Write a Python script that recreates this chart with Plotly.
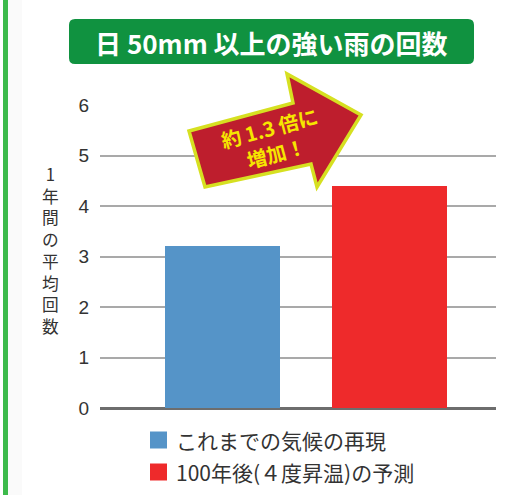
import plotly.graph_objects as go

# ---- data ----
categories = ["これまでの気候の再現", "100年後(４度昇温)の予測"]
values = [3.2, 4.4]
colors = ["#5594c8", "#ee2a2b"]
y_ticks = [0, 1, 2, 3, 4, 5, 6]
title_text = "日 50mm 以上の強い雨の回数"
y_label = "1年間の平均回数"
arrow_text = "約 1.3 倍に<br>増加！"

W, H = 509, 495
L, R, T, B = 100, 496, 105, 408  # plot area in pixels

def px(x):
    return (x - L) / (R - L)

def py(y):
    return (B - y) / (B - T)

JP = "Noto Sans CJK JP, Liberation Sans, sans-serif"
NUM = "Liberation Sans, Arial, sans-serif"

fig = go.Figure()
xpos = list(range(len(categories)))
fig.add_trace(go.Bar(
    x=xpos, y=values, marker=dict(color=colors, line=dict(width=0)),
    width=0.69, showlegend=False, hoverinfo="skip"))

shapes = []
# left green border
shapes.append(dict(type="rect", xref="paper", yref="paper",
                   x0=px(8), x1=px(22), y0=py(H), y1=py(0),
                   fillcolor="#fafafa", line=dict(width=0), layer="below"))
shapes.append(dict(type="rect", xref="paper", yref="paper",
                   x0=px(3), x1=px(8), y0=py(H), y1=py(0),
                   fillcolor="#3dba4b", line=dict(width=0)))

# rounded title box
def rounded(x0, y0, x1, y1, r):
    pts = [
        f"M{px(x0 + r)},{py(y0)}",
        f"L{px(x1 - r)},{py(y0)}",
        f"Q{px(x1)},{py(y0)} {px(x1)},{py(y0 + r)}",
        f"L{px(x1)},{py(y1 - r)}",
        f"Q{px(x1)},{py(y1)} {px(x1 - r)},{py(y1)}",
        f"L{px(x0 + r)},{py(y1)}",
        f"Q{px(x0)},{py(y1)} {px(x0)},{py(y1 - r)}",
        f"L{px(x0)},{py(y0 + r)}",
        f"Q{px(x0)},{py(y0)} {px(x0 + r)},{py(y0)}",
        "Z",
    ]
    return " ".join(pts)

shapes.append(dict(type="path", xref="paper", yref="paper",
                   path=rounded(69, 19, 474, 64, 6),
                   fillcolor="#109240", line=dict(width=0)))

# arrow
arrow_px = [(189, 131), (293, 103), (287, 74), (361, 115),
            (317, 187), (311, 164), (205, 187)]
path = "M" + " L".join(f"{px(x)},{py(y)}" for x, y in arrow_px) + " Z"
shapes.append(dict(type="path", xref="paper", yref="paper", path=path,
                   fillcolor="#be1e2d", line=dict(color="#d6e021", width=3.5)))

annotations = [
    dict(text=title_text, xref="paper", yref="paper", x=px(271.5), y=py(42),
         showarrow=False, xanchor="center", yanchor="middle",
         font=dict(family=JP, size=26, color="white", weight="bold")),
    dict(text=arrow_text, xref="paper", yref="paper", x=px(272), y=py(140),
         showarrow=False, xanchor="center", yanchor="middle", textangle=-15,
         font=dict(family=JP, size=20, color="#f6e600", weight="bold")),
    # vertical y-axis title, one character per line
    dict(text="<br>".join(list(y_label)), xref="paper", yref="paper",
         x=px(50), y=py(250), showarrow=False, xanchor="center", yanchor="middle",
         font=dict(family=JP, size=16.7, color="#333333")),
]

# legend (square swatch + label per series)
for i, (name, c) in enumerate(zip(categories, colors)):
    cy = 440 + i * 32
    shapes.append(dict(type="rect", xref="paper", yref="paper",
                       x0=px(150), x1=px(167), y0=py(cy + 8.5), y1=py(cy - 8.5),
                       fillcolor=c, line=dict(width=0)))
    annotations.append(dict(
        text=name, xref="paper", yref="paper", x=px(174), y=py(cy),
        showarrow=False, xanchor="left", yanchor="middle",
        font=dict(family=JP, size=21, color="#333333")))

fig.update_layout(
    width=W, height=H,
    margin=dict(l=L, r=W - R, t=T, b=H - B, pad=0),
    paper_bgcolor="white", plot_bgcolor="white",
    shapes=shapes, annotations=annotations,
    showlegend=False,
    xaxis=dict(range=[-0.734, 1.638], showticklabels=False, showgrid=False,
               zeroline=False, showline=False, fixedrange=True),
    yaxis=dict(range=[0, 6], tickvals=y_ticks, showgrid=True,
               gridcolor="#a9a9a9", gridwidth=2,
               zeroline=True, zerolinecolor="#6d6d6d", zerolinewidth=3,
               showline=False, ticks="", ticklabelstandoff=10, fixedrange=True,
               tickfont=dict(family=NUM, size=19, color="#333333")),
    bargap=0,
)

fig.write_html("out.html", config={"displayModeBar": False},
               post_script="document.body.style.margin='0px';document.body.style.overflow='hidden';")
